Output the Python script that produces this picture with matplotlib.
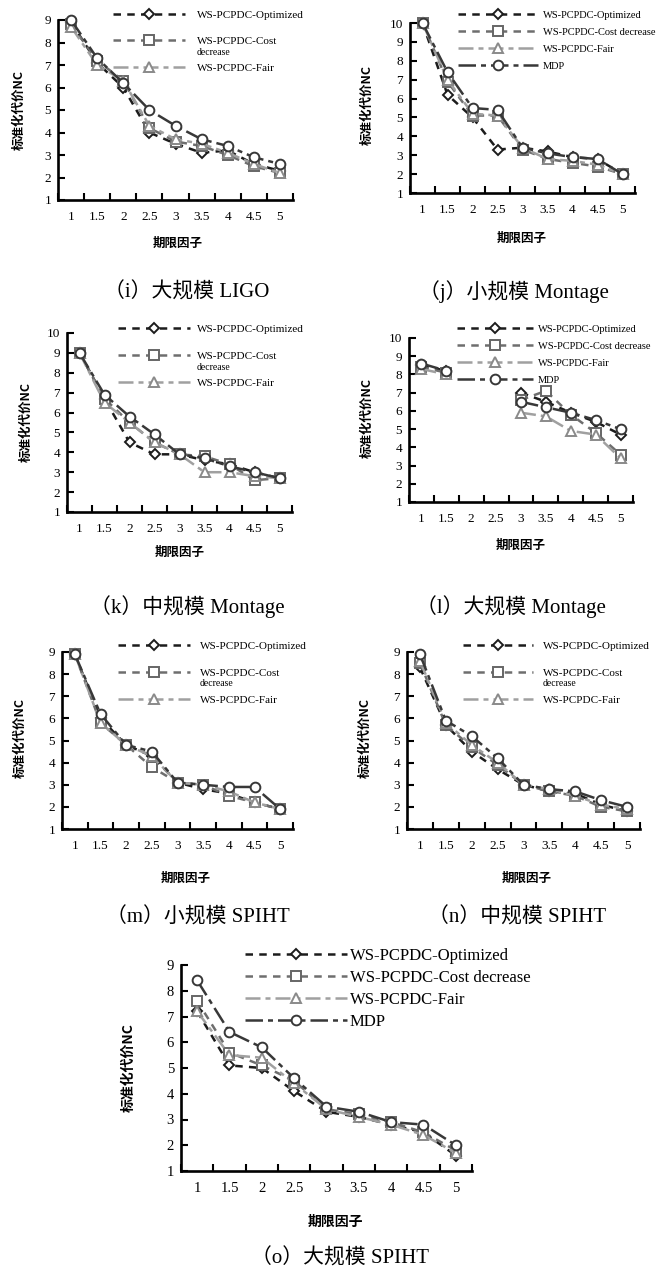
import numpy as np
import matplotlib.pyplot as plt
from matplotlib.lines import Line2D

plt.rcParams['font.family'] = ['Liberation Serif', 'Noto Sans CJK SC']
plt.rcParams['axes.unicode_minus'] = False

W, H = 659, 1277

factors = ['1', '1.5', '2', '2.5', '3', '3.5', '4', '4.5', '5']
names3 = ['WS-PCPDC-Optimized', 'WS-PCPDC-Cost', 'WS-PCPDC-Fair']
names4 = ['WS-PCPDC-Optimized', 'WS-PCPDC-Cost decrease', 'WS-PCPDC-Fair', 'MDP']

# (i) 大规模 LIGO
i_opt = [8.9, 7.1, 6.0, 4.0, 3.5, 3.1, 3.2, 2.6, 2.3]
i_cost = [8.8, 7.2, 6.3, 4.2, 3.6, 3.4, 3.0, 2.5, 2.2]
i_fair = [8.7, 7.0, 6.3, 4.3, 3.7, 3.5, 3.1, 2.6, 2.2]
i_mdp = [9.0, 7.3, 6.2, 5.0, 4.3, 3.7, 3.4, 2.9, 2.6]

# (j) 小规模 Montage
j_opt = [10.0, 6.2, 5.0, 3.3, 3.4, 3.2, 2.9, 2.8, 2.0]
j_cost = [10.0, 6.9, 5.1, 5.1, 3.3, 2.8, 2.6, 2.4, 2.0]
j_fair = [10.0, 7.0, 5.2, 5.1, 3.4, 2.8, 2.7, 2.5, 2.0]
j_mdp = [10.0, 7.4, 5.5, 5.4, 3.4, 3.1, 2.9, 2.8, 2.0]

# (k) 中规模 Montage
k_opt = [9.0, 6.7, 4.5, 3.9, 3.9, 3.6, 3.4, 3.0, 2.7]
k_cost = [9.0, 6.7, 5.5, 4.5, 3.9, 3.8, 3.4, 2.6, 2.7]
k_fair = [9.0, 6.5, 5.5, 4.5, 3.9, 3.0, 3.0, 2.8, 2.7]
k_mdp = [9.0, 6.9, 5.8, 4.9, 3.9, 3.7, 3.3, 3.0, 2.7]

# (l) 大规模 Montage
l_opt = [8.5, 8.2, np.nan, np.nan, 7.0, 6.5, 5.9, 5.4, 4.7]
l_cost = [8.4, 8.1, np.nan, np.nan, 6.6, 7.1, 5.8, 4.8, 3.6]
l_fair = [8.3, 8.0, np.nan, np.nan, 5.9, 5.7, 4.9, 4.7, 3.4]
l_mdp = [8.6, 8.2, np.nan, np.nan, 6.5, 6.2, 5.9, 5.5, 5.0]

# (m) 小规模 SPIHT
m_opt = [8.9, 6.0, 4.8, 4.3, 3.1, 2.8, 2.6, 2.2, 1.9]
m_cost = [8.9, 5.8, 4.8, 3.8, 3.1, 3.0, 2.5, 2.2, 1.9]
m_fair = [8.9, 5.8, 4.8, 4.3, 3.1, 3.0, 2.7, 2.2, 1.9]
m_mdp = [8.9, 6.2, 4.8, 4.5, 3.1, 3.0, 2.9, 2.9, 1.9]

# (n) 中规模 SPIHT
n_opt = [8.3, 5.7, 4.5, 3.7, 3.0, 2.7, 2.6, 2.1, 1.8]
n_cost = [8.5, 5.7, 4.7, 3.9, 3.0, 2.7, 2.5, 2.0, 1.8]
n_fair = [8.6, 5.8, 4.8, 4.0, 3.0, 2.8, 2.5, 2.1, 1.9]
n_mdp = [8.9, 5.9, 5.2, 4.2, 3.0, 2.8, 2.7, 2.3, 2.0]

# (o) 大规模 SPIHT
o_opt = [7.2, 5.1, 5.0, 4.1, 3.3, 3.1, 2.8, 2.5, 1.6]
o_cost = [7.6, 5.6, 5.1, 4.5, 3.4, 3.2, 2.9, 2.5, 1.8]
o_fair = [7.2, 5.5, 5.4, 4.4, 3.4, 3.1, 2.8, 2.4, 1.7]
o_mdp = [8.4, 6.4, 5.8, 4.6, 3.5, 3.3, 2.9, 2.8, 2.0]

styles = [
    dict(color='#1c1c1c', ls=(0, (3, 2.5)), marker='D', ms=5.5, mfc='white', mec='#1c1c1c'),
    dict(color='#6e6e6e', ls=(0, (3, 2.5)), marker='s', ms=6.5, mfc='white', mec='#666666'),
    dict(color='#a0a0a0', ls=(0, (6, 2, 2, 2)), marker='^', ms=7, mfc='white', mec='#8a8a8a'),
    dict(color='#383838', ls=(0, (7, 2, 2, 2)), marker='o', ms=7, mfc='white', mec='#383838'),
]

fig = plt.figure(figsize=(W / 100, H / 100), dpi=100)


def fx(x):
    return x / W


def fy(y):
    return 1 - y / H


def panel(box, ymax, series, names, leg, ylab, xlab, cap, caption, fs=9.5, legfs=8, labfs=9):
    L, T, R, B = box
    ax = fig.add_axes([fx(L), fy(B), (R - L) / W, (B - T) / H])
    xs = np.arange(1, 10)
    for vals, st in zip(series, styles):
        ax.plot(xs, vals, lw=1.8, mew=1.4, clip_on=False, **st)
    ax.set_xlim(0.5, 9.5)
    ax.set_ylim(1, ymax)
    ax.set_xticks(xs)
    ax.set_xticklabels(factors)
    ax.set_xticks(np.arange(0.5, 10), minor=True)
    ax.tick_params(axis='x', which='major', length=0, pad=8, labelsize=fs)
    ax.tick_params(axis='x', which='minor', direction='in', length=5, width=1.5)
    ax.set_yticks(range(1, ymax + 1))
    ax.tick_params(axis='y', direction='in', length=5, width=1.5, pad=5, labelsize=fs)
    for s in ['top', 'right']:
        ax.spines[s].set_visible(False)
    for s in ['left', 'bottom']:
        ax.spines[s].set_linewidth(1.9)
    ax.patch.set_alpha(0)

    # 图例
    lx, ly, hlen, tx, step = leg
    fpx = legfs * 100 / 72
    rowh = fpx * 0.9
    handles = [Line2D([], [], lw=1.8, mew=1.4, **st) for st in styles[:len(names)]]
    ax.legend(handles, names, loc='upper left',
              bbox_to_anchor=(fx(lx), fy(ly - 0.33 * fpx)), bbox_transform=fig.transFigure,
              frameon=False, fontsize=legfs, numpoints=1,
              handlelength=hlen / fpx, handletextpad=(tx - lx - hlen) / fpx,
              labelspacing=(step - rowh) / fpx, borderpad=0, borderaxespad=0)
    if len(names) == 3:
        fig.text(fx(tx), fy(ly + step + 12), 'decrease', fontsize=legfs - 1,
                 ha='left', va='center')

    fig.text(fx(ylab[0]), fy(ylab[1]), '标准化代价NC', rotation=90, ha='center', va='center',
             fontsize=labfs, fontweight='bold', family=['Noto Sans CJK SC'])
    fig.text(fx(xlab[0]), fy(xlab[1]), '期限因子', ha='center', va='center',
             fontsize=labfs, fontweight='bold', family=['Noto Sans CJK SC'])
    fig.text(fx(cap[0]), fy(cap[1]), caption, ha='center', va='center', fontsize=15)
    return ax


panel((58, 20, 293, 200), 9, [i_opt, i_cost, i_fair, i_mdp], names3,
      (113, 14, 72, 197, 26.5), (19, 110), (178, 243), (187, 292), '（i）大规模 LIGO')
panel((410, 23, 635, 193), 10, [j_opt, j_cost, j_fair, j_mdp], names4,
      (458, 14, 80, 543, 17), (367, 105), (522, 238), (514, 292), '（j）小规模 Montage', legfs=7.5)
panel((67, 333, 292, 512), 10, [k_opt, k_cost, k_fair, k_mdp], names3,
      (118, 328, 72, 197, 27), (26, 422), (180, 552), (187, 607), '（k）中规模 Montage')
panel((409, 338, 633, 502), 10, [l_opt, l_cost, l_fair, l_mdp], names4,
      (457, 328, 76, 538, 17), (367, 418), (521, 545), (511, 607), '（l）大规模 Montage', legfs=7.5)
panel((62, 652, 293, 829), 9, [m_opt, m_cost, m_fair, m_mdp], names3,
      (118, 645, 72, 200, 27), (20, 738), (186, 878), (198, 917), '（m）小规模 SPIHT')
panel((407, 652, 640, 829), 9, [n_opt, n_cost, n_fair, n_mdp], names3,
      (463, 645, 70, 543, 27), (365, 738), (527, 878), (517, 917), '（n）中规模 SPIHT')
panel((181, 965, 472, 1171), 9, [o_opt, o_cost, o_fair, o_mdp], names4,
      (245, 953, 102, 350, 21), (129, 1068), (335, 1222), (340, 1258), '（o）大规模 SPIHT',
      fs=10.5, legfs=12, labfs=10)

fig.savefig('out.png', dpi=100)
